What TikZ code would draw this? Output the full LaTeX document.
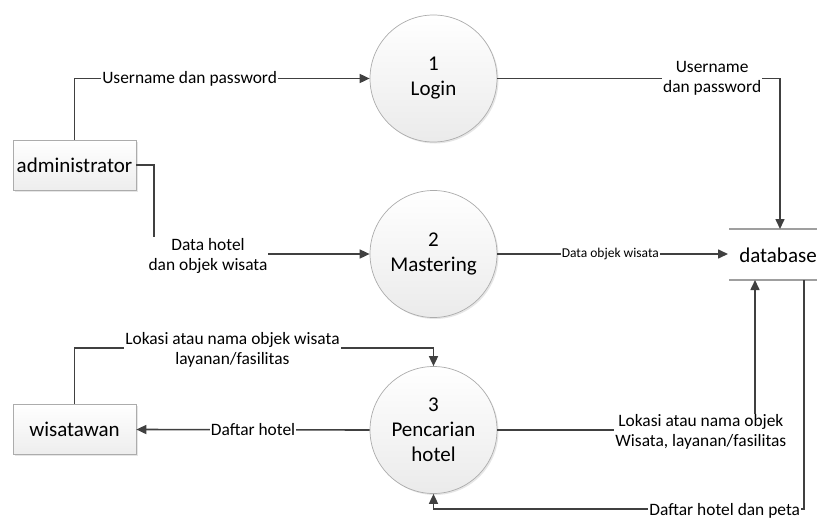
\documentclass[tikz,border=0pt]{standalone}
\usepackage{fontspec}
\setmainfont{Carlito}
\usetikzlibrary{arrows.meta,shadows,calc}
\definecolor{linegray}{HTML}{404040}
\begin{document}
\begin{tikzpicture}[x=1pt,y=-1pt,
  flow/.style={draw=linegray, line width=1.6pt, -{Triangle[length=10pt,width=9pt]}},
  dbline/.style={draw=gray!75, line width=1.3pt},
  proc/.style={circle, minimum size=127pt, inner sep=0pt, draw=gray!65, line width=0.7pt,
    top color=white, bottom color=gray!16,
    drop shadow={shadow xshift=1.5pt, shadow yshift=-1.5pt, opacity=0.2},
    align=center, font=\fontsize{21}{25}\selectfont},
  ent/.style={rectangle, minimum width=123pt, minimum height=50pt, inner sep=0pt, draw=gray!65, line width=0.7pt,
    top color=white, bottom color=gray!14,
    drop shadow={shadow xshift=1.5pt, shadow yshift=-1.5pt, opacity=0.2},
    font=\fontsize{21}{25}\selectfont},
  store/.style={inner sep=0pt, font=\fontsize{21}{25}\selectfont},
  lbl/.style={fill=white, inner sep=1pt, align=center, font=\fontsize{17.4}{20}\selectfont},
  smalllbl/.style={fill=white, inner sep=1pt, font=\fontsize{13.5}{16}\selectfont}
]
\useasboundingbox (0,0) rectangle (817,519);

% processes
\node[proc] (c1) at (433.5,78.5) {1\\Login};
\node[proc] (c2) at (433.5,254) {2\\Mastering};
\node[proc] (c3) at (433.5,430) {3\\Pencarian\\hotel};

% external entities
\node[ent] (adm) at (74.5,165) {administrator};
\node[ent] (wis) at (74.5,429.5) {wisatawan};

% data store
\node[store] (db) at (778,255) {database};
\coordinate (dbtl) at (729,229);
\coordinate (dbtr) at (817,229);
\coordinate (dbbl) at (729,280);
\coordinate (dbbr) at (817,280);
\draw[dbline] (dbtl) -- (dbtr);
\draw[dbline] (dbbl) -- (dbbr);
\coordinate (dbtop) at (780,229);
\coordinate (dbwest) at (728,254);
\coordinate (dbb1) at (755,280);
\coordinate (dbb2) at (804,280);

% helper corners
\coordinate (k1) at (154,254);
\coordinate (k2) at (433.5,348);
\coordinate (k3) at (804,509);

% flows
\draw[flow] (adm.north) |- node[lbl, pos=0.695] (l1) {Username dan password} (c1.west);
\draw[flow] (adm.east) -| (k1) -- (c2.west);
\node[lbl] (l2) at (208,256) {Data hotel\\dan objek wisata};
\draw[flow] (c1.east) -| node[lbl, pos=0.38] (l3) {Username\\dan password} (dbtop);
\draw[flow] (c2.east) -- node[smalllbl, pos=0.49] (l4) {Data objek wisata} (dbwest);
\draw[flow] (wis.north) |- node[lbl, pos=0.72, yshift=-2pt] (l5) {Lokasi atau nama objek wisata\\layanan/fasilitas} (k2) -- (c3.north);
\draw[flow] (c3.west) -- node[lbl] (l6) {Daftar hotel} (wis.east);
\draw[flow] (c3.east) -| node[lbl, pos=0.395, yshift=-2pt] (l7) {Lokasi atau nama objek\\Wisata, layanan/fasilitas} (dbb1);
\draw[flow] (dbb2) -- (k3) -| node[lbl, pos=0.107, yshift=-2pt] (l8) {Daftar hotel dan peta} (c3.south);
\end{tikzpicture}
\end{document}
